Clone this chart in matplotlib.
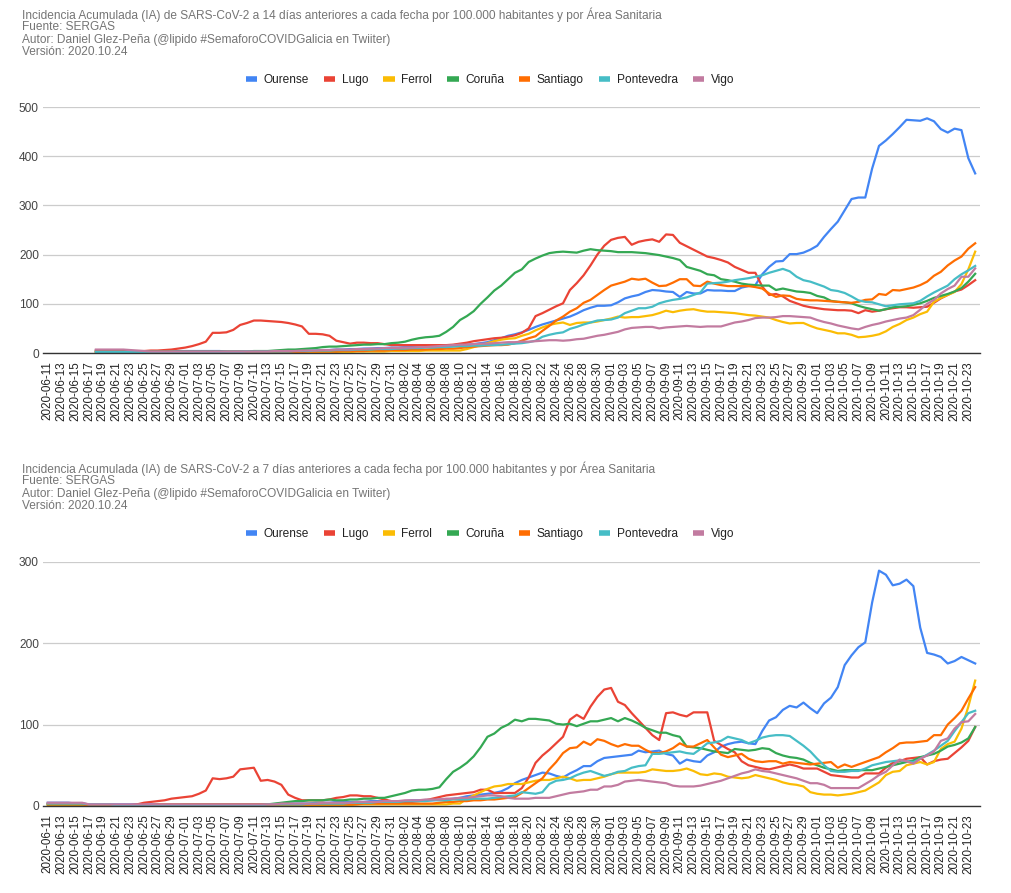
import numpy as np
import pandas as pd
import matplotlib
matplotlib.use("Agg")
import matplotlib.pyplot as plt
from matplotlib.lines import Line2D

plt.rcParams['font.family'] = ['Liberation Sans', 'DejaVu Sans']

dates = pd.date_range('2020-06-11', '2020-10-24').strftime('%Y-%m-%d').tolist()
areas = ['Ourense', 'Lugo', 'Ferrol', 'Coruña', 'Santiago', 'Pontevedra', 'Vigo']
colors = ['#4285f4', '#ea4335', '#fbbc04', '#34a853', '#ff6d01', '#46bdc6', '#c27ba0']

# IA 14 dias (first 7 days without data)
pad7 = [None] * 7
ia14_ourense = pad7 + [
    5, 5, 5, 5, 4, 4, 3, 3, 3, 3,
    3, 3, 4, 4, 4, 4, 4, 4, 4, 3,
    3, 3, 3, 3, 3, 3, 3, 4, 4, 4,
    5, 5, 5, 6, 6, 7, 7, 8, 8, 9,
    9, 10, 10, 11, 11, 12, 12, 13, 13, 14,
    14, 15, 15, 16, 17, 18, 20, 22, 26, 30,
    35, 38, 42, 47, 53, 58, 62, 66, 70, 74,
    80, 87, 92, 96, 96, 97, 103, 111, 115, 118,
    124, 128, 127, 125, 124, 114, 124, 121, 121, 128,
    127, 127, 126, 126, 133, 136, 138, 160, 175, 186,
    187, 201, 201, 204, 210, 218, 236, 252, 267, 290,
    313, 316, 316, 375, 421, 432, 445, 459, 474, 473,
    472, 477, 471, 455, 448, 456, 453, 396, 365]
ia14_lugo = pad7 + [
    5, 5, 5, 5, 5, 4, 4, 4, 5, 5,
    6, 7, 9, 11, 14, 18, 23, 41, 41, 42,
    47, 57, 61, 66, 66, 65, 64, 63, 61, 58,
    54, 39, 39, 38, 35, 25, 22, 19, 21, 21,
    20, 20, 18, 16, 16, 16, 16, 16, 16, 16,
    16, 16, 17, 19, 21, 24, 26, 28, 30, 31,
    33, 36, 41, 50, 75, 81, 88, 95, 101, 128,
    142, 158, 178, 200, 218, 230, 234, 236, 220, 226,
    229, 231, 226, 241, 240, 224, 217, 210, 203, 196,
    193, 189, 184, 175, 169, 163, 163, 135, 118, 120,
    115, 106, 101, 96, 93, 91, 89, 88, 87, 87,
    86, 81, 87, 84, 86, 89, 91, 93, 93, 92,
    93, 94, 102, 111, 118, 125, 129, 138, 148]
ia14_ferrol = pad7 + [
    2, 2, 2, 2, 2, 2, 2, 2, 2, 2,
    2, 2, 2, 2, 1, 1, 1, 1, 1, 1,
    1, 1, 1, 1, 1, 1, 1, 1, 1, 1,
    1, 1, 1, 1, 2, 2, 2, 2, 3, 3,
    3, 3, 3, 4, 4, 4, 4, 4, 5, 5,
    5, 5, 5, 5, 8, 12, 16, 20, 24, 27,
    29, 30, 35, 39, 46, 52, 57, 60, 62, 57,
    61, 62, 62, 64, 67, 70, 74, 72, 73, 73,
    75, 77, 81, 86, 83, 86, 88, 89, 86, 84,
    84, 83, 82, 81, 79, 77, 76, 74, 72, 67,
    63, 60, 61, 61, 55, 50, 47, 44, 40, 40,
    37, 32, 33, 35, 38, 44, 53, 59, 67, 72,
    79, 84, 104, 112, 118, 124, 140, 170, 206]
ia14_coruna = pad7 + [
    3, 3, 3, 3, 3, 3, 3, 3, 3, 3,
    3, 3, 3, 3, 3, 3, 3, 3, 3, 3,
    3, 3, 3, 4, 4, 4, 5, 6, 7, 7,
    8, 9, 10, 12, 13, 13, 14, 15, 16, 17,
    17, 18, 18, 20, 21, 23, 27, 30, 32, 33,
    35, 43, 53, 67, 75, 85, 100, 113, 127, 137,
    150, 163, 170, 185, 192, 198, 203, 205, 206, 205,
    204, 208, 211, 209, 208, 207, 205, 205, 205, 204,
    203, 201, 199, 196, 193, 189, 175, 171, 167, 160,
    158, 150, 148, 145, 141, 139, 138, 137, 137, 128,
    131, 128, 125, 124, 122, 116, 113, 106, 104, 103,
    101, 96, 92, 89, 86, 89, 93, 94, 95, 98,
    101, 106, 112, 116, 120, 125, 132, 145, 161]
ia14_santiago = pad7 + [
    2, 2, 2, 2, 2, 2, 2, 2, 2, 2,
    2, 2, 2, 2, 2, 2, 2, 2, 2, 2,
    2, 2, 2, 2, 2, 2, 2, 2, 2, 2,
    2, 3, 3, 3, 3, 3, 4, 4, 4, 4,
    5, 5, 5, 6, 6, 6, 7, 7, 7, 8,
    8, 9, 9, 10, 12, 13, 14, 15, 16, 16,
    17, 20, 25, 30, 34, 45, 55, 66, 74, 84,
    91, 102, 108, 118, 128, 137, 141, 145, 151, 149,
    151, 143, 136, 137, 143, 150, 150, 137, 136, 145,
    141, 138, 136, 136, 136, 136, 134, 131, 121, 114,
    117, 116, 110, 108, 107, 107, 106, 105, 104, 103,
    102, 104, 108, 109, 120, 118, 128, 127, 130, 133,
    138, 145, 157, 165, 178, 188, 196, 212, 223]
ia14_pontevedra = pad7 + [
    2, 2, 2, 2, 2, 2, 2, 2, 2, 2,
    2, 2, 2, 2, 2, 2, 2, 2, 2, 2,
    2, 2, 3, 3, 3, 3, 3, 3, 3, 4,
    4, 4, 5, 5, 5, 6, 6, 6, 7, 7,
    7, 8, 8, 8, 9, 9, 10, 10, 11, 11,
    12, 12, 13, 14, 14, 15, 15, 16, 16, 17,
    18, 19, 20, 22, 25, 33, 37, 40, 42, 49,
    53, 58, 62, 66, 67, 68, 72, 81, 86, 91,
    91, 94, 101, 105, 108, 110, 113, 118, 123, 141,
    142, 143, 145, 148, 150, 152, 155, 158, 163, 167,
    171, 166, 155, 148, 145, 140, 135, 128, 126, 122,
    115, 107, 104, 103, 99, 95, 97, 99, 100, 101,
    106, 115, 123, 130, 137, 150, 160, 168, 177]
ia14_vigo = pad7 + [
    7, 7, 7, 7, 7, 6, 5, 4, 3, 3,
    3, 3, 3, 3, 3, 3, 3, 3, 3, 3,
    3, 3, 3, 3, 3, 3, 4, 4, 4, 4,
    5, 5, 5, 6, 6, 7, 7, 7, 8, 8,
    9, 9, 10, 10, 10, 11, 11, 12, 12, 13,
    14, 15, 16, 17, 17, 18, 19, 19, 20, 21,
    22, 22, 23, 23, 24, 25, 26, 26, 25, 26,
    28, 29, 32, 35, 37, 40, 43, 48, 51, 52,
    53, 53, 50, 52, 53, 54, 55, 54, 53, 54,
    54, 54, 58, 62, 64, 67, 71, 72, 72, 73,
    75, 75, 74, 73, 72, 67, 63, 60, 56, 53,
    50, 48, 53, 57, 60, 64, 67, 70, 72, 77,
    88, 100, 108, 121, 130, 137, 155, 155, 172]

# IA 7 dias
ia7_ourense = [
    4, 4, 4, 4, 3, 3, 2, 2, 2, 2,
    2, 2, 2, 2, 2, 2, 2, 2, 2, 2,
    2, 2, 2, 2, 2, 2, 2, 2, 2, 2,
    2, 2, 2, 2, 2, 3, 3, 3, 3, 4,
    4, 4, 5, 5, 5, 5, 5, 6, 6, 6,
    6, 6, 6, 7, 7, 7, 7, 8, 8, 9,
    10, 12, 13, 14, 15, 16, 18, 22, 28, 32,
    35, 38, 41, 40, 37, 35, 40, 44, 49, 49,
    55, 59, 60, 61, 62, 63, 68, 66, 67, 68,
    64, 62, 52, 57, 55, 54, 62, 66, 73, 76,
    78, 79, 77, 76, 92, 105, 109, 118, 123, 121,
    127, 120, 114, 126, 133, 146, 173, 185, 195, 201,
    250, 289, 284, 271, 273, 278, 270, 219, 188, 186,
    183, 175, 178, 183, 179, 175]
ia7_lugo = [
    3, 3, 3, 3, 3, 3, 1, 1, 1, 1,
    1, 1, 1, 2, 4, 5, 6, 7, 9, 10,
    11, 12, 15, 19, 34, 33, 34, 36, 45, 46,
    47, 31, 32, 30, 26, 14, 10, 7, 7, 7,
    7, 8, 10, 11, 13, 13, 12, 12, 10, 8,
    6, 5, 4, 5, 6, 7, 9, 11, 13, 14,
    15, 16, 17, 20, 20, 16, 16, 16, 16, 22,
    35, 53, 62, 69, 77, 85, 106, 112, 107, 122,
    134, 143, 145, 128, 124, 114, 105, 96, 87, 81,
    114, 115, 112, 110, 115, 115, 115, 80, 75, 70,
    66, 55, 50, 48, 46, 45, 47, 49, 51, 49,
    46, 46, 46, 42, 38, 37, 36, 35, 35, 40,
    40, 40, 47, 53, 55, 58, 59, 60, 51, 55,
    57, 58, 65, 72, 80, 97]
ia7_ferrol = [
    1, 1, 1, 1, 1, 1, 1, 1, 1, 1,
    1, 1, 1, 1, 1, 1, 1, 1, 1, 1,
    1, 1, 1, 1, 1, 1, 1, 1, 1, 1,
    1, 1, 1, 1, 1, 1, 1, 1, 1, 1,
    1, 1, 1, 1, 1, 2, 2, 2, 2, 2,
    2, 2, 2, 2, 2, 2, 2, 2, 2, 3,
    3, 9, 13, 17, 21, 24, 25, 27, 27, 27,
    29, 31, 32, 32, 34, 36, 34, 31, 32, 32,
    34, 36, 39, 41, 41, 41, 41, 42, 45, 44,
    43, 43, 44, 46, 43, 39, 38, 40, 39, 36,
    35, 34, 35, 38, 36, 34, 32, 29, 27, 26,
    24, 17, 15, 14, 14, 13, 14, 15, 17, 19,
    24, 29, 38, 42, 43, 50, 52, 54, 51, 54,
    70, 76, 79, 95, 122, 154]
ia7_coruna = [
    2, 2, 2, 2, 2, 2, 1, 1, 1, 1,
    1, 1, 1, 1, 1, 1, 1, 1, 1, 1,
    2, 2, 2, 2, 2, 2, 2, 2, 2, 2,
    2, 2, 2, 3, 4, 5, 6, 6, 7, 7,
    7, 8, 7, 7, 8, 8, 9, 9, 10, 10,
    12, 14, 16, 19, 20, 20, 21, 23, 33, 42,
    47, 53, 61, 72, 85, 89, 96, 100, 106, 104,
    107, 107, 106, 105, 101, 100, 101, 98, 101, 104,
    104, 106, 108, 104, 108, 105, 101, 96, 93, 90,
    90, 87, 85, 73, 72, 71, 69, 67, 66, 65,
    70, 69, 68, 69, 71, 70, 65, 62, 60, 59,
    57, 53, 50, 47, 45, 43, 44, 44, 44, 44,
    44, 46, 48, 50, 52, 54, 56, 60, 62, 64,
    68, 73, 75, 78, 83, 97]
ia7_santiago = [
    2, 2, 2, 2, 2, 2, 1, 1, 1, 1,
    1, 1, 1, 1, 1, 1, 2, 2, 2, 2,
    2, 2, 2, 2, 2, 2, 2, 2, 2, 2,
    2, 2, 2, 2, 2, 2, 2, 2, 2, 2,
    2, 2, 2, 2, 2, 2, 3, 3, 3, 3,
    3, 3, 3, 3, 3, 3, 3, 4, 5, 5,
    6, 6, 7, 7, 8, 8, 9, 10, 11, 16,
    22, 28, 34, 45, 54, 65, 71, 72, 79, 75,
    82, 80, 76, 73, 76, 74, 74, 69, 65, 65,
    67, 71, 77, 73, 73, 77, 81, 72, 63, 60,
    62, 64, 58, 55, 54, 55, 55, 52, 54, 53,
    52, 51, 52, 53, 54, 47, 51, 48, 51, 54,
    57, 60, 66, 71, 77, 78, 78, 79, 80, 87,
    87, 100, 108, 117, 132, 146]
ia7_pontevedra = [
    3, 3, 3, 3, 3, 3, 2, 2, 2, 2,
    1, 1, 1, 1, 1, 1, 1, 1, 1, 1,
    1, 1, 1, 1, 1, 1, 1, 1, 1, 1,
    1, 1, 2, 2, 2, 2, 2, 2, 3, 3,
    3, 3, 3, 3, 4, 4, 4, 4, 5, 5,
    5, 5, 6, 6, 6, 6, 7, 7, 7, 8,
    8, 8, 9, 9, 9, 10, 11, 12, 13, 17,
    16, 15, 17, 27, 31, 32, 34, 38, 41, 43,
    40, 37, 39, 42, 43, 47, 49, 50, 64, 64,
    65, 66, 67, 65, 64, 70, 77, 78, 80, 85,
    83, 81, 77, 80, 84, 86, 87, 87, 86, 80,
    74, 67, 58, 50, 43, 42, 42, 43, 43, 46,
    50, 52, 54, 55, 56, 55, 54, 58, 63, 68,
    74, 80, 92, 103, 114, 117]
ia7_vigo = [
    4, 4, 4, 4, 4, 4, 2, 2, 2, 2,
    2, 2, 2, 2, 2, 2, 2, 2, 2, 2,
    2, 2, 2, 2, 2, 2, 2, 2, 2, 2,
    2, 2, 2, 2, 3, 3, 3, 3, 3, 3,
    4, 4, 4, 4, 4, 5, 5, 5, 5, 6,
    6, 6, 7, 7, 7, 8, 8, 8, 9, 9,
    10, 10, 11, 12, 13, 13, 12, 10, 9, 9,
    9, 10, 10, 10, 12, 14, 16, 17, 18, 20,
    20, 24, 24, 26, 30, 31, 32, 31, 30, 29,
    28, 25, 24, 24, 24, 25, 27, 29, 31, 34,
    37, 40, 42, 45, 43, 42, 40, 38, 36, 34,
    31, 28, 28, 26, 22, 22, 22, 22, 22, 27,
    32, 38, 42, 50, 57, 55, 52, 58, 62, 67,
    80, 83, 95, 103, 104, 113]

ia14 = [ia14_ourense, ia14_lugo, ia14_ferrol, ia14_coruna, ia14_santiago, ia14_pontevedra, ia14_vigo]
ia7 = [ia7_ourense, ia7_lugo, ia7_ferrol, ia7_coruna, ia7_santiago, ia7_pontevedra, ia7_vigo]

header = ['Fuente: SERGAS',
          'Autor: Daniel Glez-Peña (@lipido #SemaforoCOVIDGalicia en Twiiter)',
          'Versión: 2020.10.24']
title14 = 'Incidencia Acumulada (IA) de SARS-CoV-2 a 14 días anteriores a cada fecha por 100.000 habitantes y por Área Sanitaria'
title7 = 'Incidencia Acumulada (IA) de SARS-CoV-2 a 7 días anteriores a cada fecha por 100.000 habitantes y por Área Sanitaria'

W, H = 1012, 893
fig = plt.figure(figsize=(W / 100, H / 100), dpi=100)
x = np.arange(len(dates))


def draw_panel(series, title, top_px, ax_top, ax_bottom, ymax, step):
    lines = [title] + header
    for i, t in enumerate(lines):
        fig.text(22 / W, 1 - (top_px + i * 12.3) / H, t, fontsize=8.6,
                 color='#757575', va='center', ha='left')
    ax = fig.add_axes([43 / W, 1 - ax_bottom / H, (980 - 43) / W, (ax_bottom - ax_top) / H])
    for vals, c, name in zip(series, colors, areas):
        ax.plot(x, np.array(vals, dtype=float), color=c, lw=1.6, label=name)
    ax.set_xlim(-0.7, 135.7)
    ax.set_ylim(0, ymax)
    ax.set_yticks(np.arange(0, ymax + 1, step))
    ax.set_xticks(x[::2])
    ax.set_xticklabels(dates[::2], rotation=90, fontsize=8.4, color='#222222')
    ax.tick_params(axis='both', length=0)
    ax.tick_params(axis='x', pad=6)
    ax.tick_params(axis='y', pad=3, labelsize=8.6, labelcolor='#444444')
    ax.grid(axis='y', color='#cccccc', lw=0.9)
    ax.set_axisbelow(True)
    for s in ['top', 'right', 'left']:
        ax.spines[s].set_visible(False)
    ax.spines['bottom'].set_color('#333333')
    ax.spines['bottom'].set_linewidth(1)
    handles = [Line2D([], [], color=c, lw=4, solid_capstyle='butt') for c in colors]
    fig.legend(handles, areas, loc='center', ncol=7, frameon=False,
               bbox_to_anchor=(490 / W, 1 - (top_px + 65) / H),
               fontsize=8.6, handlelength=0.95, handletextpad=0.55,
               columnspacing=1.25, labelcolor='#222222')
    return ax


draw_panel(ia14, title14, 15, 107, 353, 500, 100)
draw_panel(ia7, title7, 469, 561.7, 806, 300, 100)

fig.savefig('out.png', dpi=100)
